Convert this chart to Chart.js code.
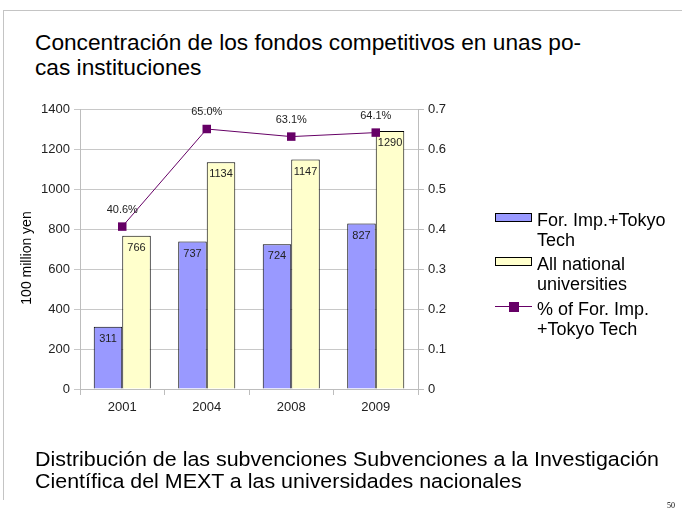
<!DOCTYPE html>
<html>
<head>
<meta charset="utf-8">
<script src="https://cdn.jsdelivr.net/npm/chart.js@4.4.1/dist/chart.umd.min.js"></script>
<style>
  html, body { margin: 0; padding: 0; background: #fff; }
  #slide { position: relative; width: 682px; height: 513px; overflow: hidden; font-family: "Liberation Sans", Arial, sans-serif; color: #000; }
  #frameTop { position: absolute; left: 3px; top: 10px; width: 679px; height: 1px; background: #c4c4c4; }
  #frameLeft { position: absolute; left: 3px; top: 10px; width: 1px; height: 490px; background: #c4c4c4; }
  #title { position: absolute; left: 35px; top: 30px; font-size: 22.7px; line-height: 25px; white-space: nowrap; }
  #caption { position: absolute; left: 35px; top: 448px; font-size: 20.5px; line-height: 21.5px; white-space: nowrap; transform: scaleX(1.045); transform-origin: left top; }
  #pageNo { position: absolute; left: 667px; top: 501px; font-family: "Liberation Serif", serif; font-size: 8px; }
  #chart { position: absolute; left: 0; top: 0; }
  #legend { position: absolute; left: 495px; top: 209.7px; font-size: 18px; line-height: 20px; white-space: nowrap; }
  .item { position: relative; padding-left: 42px; margin-bottom: 4.5px; }
  .box { position: absolute; left: 0; top: 3.3px; width: 35px; height: 7px; border: 1px solid #000; }
  .lineKey { position: absolute; left: 0; top: 7.5px; width: 37px; height: 1px; background: #660066; }
  .lineKey::after { content: ""; position: absolute; left: 14px; top: -4.5px; width: 10px; height: 10px; background: #660066; }
</style>
</head>
<body>
<div id="slide">
  <div id="frameTop"></div>
  <div id="frameLeft"></div>
  <div id="title">Concentración de los fondos competitivos en unas po-<br>cas instituciones</div>
  <canvas id="chart" width="682" height="513"></canvas>
  <div id="legend"></div>
  <div id="caption">Distribución de las subvenciones Subvenciones a la Investigación<br>Científica del MEXT a las universidades nacionales</div>
  <div id="pageNo">50</div>
</div>
<script>
const years = ['2001', '2004', '2008', '2009'];
const topTwo = [311, 737, 724, 827];
const allNational = [766, 1134, 1147, 1290];
const shareTopTwo = [0.406, 0.650, 0.631, 0.641];

const seriesNames = ['For. Imp.+Tokyo<br>Tech', 'All national<br>universities', '% of For. Imp.<br>+Tokyo Tech'];
const barFill = ['#9999ff', '#ffffcc'];
const lineColor = '#660066';
const yTitle = '100 million yen';

// html legend, the labels wrap onto two lines
const legendEl = document.getElementById('legend');
seriesNames.forEach((name, i) => {
    const item = document.createElement('div');
    item.className = 'item';
    const key = document.createElement('span');
    if (i < 2) {
        key.className = 'box';
        key.style.background = barFill[i];
    } else {
        key.className = 'lineKey';
    }
    item.appendChild(key);
    const txt = document.createElement('span');
    txt.innerHTML = name;
    item.appendChild(txt);
    legendEl.appendChild(item);
});

const fontFamily = '"Liberation Sans", Arial, sans-serif';

// value labels on bars and points, plus the left axis title
const valueLabels = {
    id: 'valueLabels',
    afterDatasetsDraw(chart) {
        const ctx = chart.ctx;
        ctx.save();
        ctx.font = '11px ' + fontFamily;
        ctx.fillStyle = '#222';
        ctx.textAlign = 'center';
        ctx.textBaseline = 'middle';
        chart.data.datasets.forEach((ds, i) => {
            const meta = chart.getDatasetMeta(i);
            meta.data.forEach((el, j) => {
                const v = ds.data[j];
                if (ds.type === 'line') {
                    ctx.fillText((v * 100).toFixed(1) + '%', el.x, el.y - 17);
                } else {
                    ctx.fillText(String(v), el.x, el.y + 12);
                }
            });
        });

        const area = chart.chartArea;
        ctx.font = '14px ' + fontFamily;
        ctx.fillStyle = '#000';
        ctx.translate(27, (area.top + area.bottom) / 2 + 9);
        ctx.rotate(-Math.PI / 2);
        ctx.fillText(yTitle, 0, 0);
        ctx.restore();
    }
};

const axisGray = '#bdbdbd';
const tickFont = { family: fontFamily, size: 13 };

new Chart(document.getElementById('chart'), {
    data: {
        labels: years,
        datasets: [
            {
                type: 'line', label: 'share', data: shareTopTwo, yAxisID: 'y1',
                borderColor: lineColor, backgroundColor: lineColor, borderWidth: 1,
                pointStyle: 'rect', pointRadius: 6, pointBorderWidth: 0,
                tension: 0, order: 0
            },
            {
                type: 'bar', label: 'top', data: topTwo, yAxisID: 'y',
                backgroundColor: barFill[0], borderColor: '#000', borderWidth: 1,
                categoryPercentage: 0.675, barPercentage: 1, order: 1
            },
            {
                type: 'bar', label: 'all', data: allNational, yAxisID: 'y',
                backgroundColor: barFill[1], borderColor: '#000', borderWidth: 1,
                categoryPercentage: 0.675, barPercentage: 1, order: 1
            }
        ]
    },
    options: {
        responsive: false,
        animation: false,
        layout: { padding: { top: 109, left: 16, right: 0, bottom: 94 } },
        plugins: { legend: { display: false }, tooltip: { enabled: false } },
        scales: {
            x: {
                afterFit: s => { s.height = 30; },
                grid: { offset: true, drawOnChartArea: false, drawTicks: true, tickLength: 6, color: axisGray },
                border: { color: axisGray },
                ticks: { color: '#222', font: tickFont, padding: 5 }
            },
            y: {
                position: 'left', min: 0, max: 1400,
                afterFit: s => { s.width = 64; },
                ticks: { stepSize: 200, color: '#222', font: tickFont, padding: 4, callback: v => String(v) },
                grid: { color: '#c8c8c8', tickLength: 6 },
                border: { color: axisGray }
            },
            y1: {
                position: 'right', min: 0, max: 0.7,
                afterFit: s => { s.width = 264; },
                ticks: { stepSize: 0.1, color: '#222', font: tickFont, padding: 4, callback: v => String(Math.round(v * 10) / 10) },
                grid: { drawOnChartArea: false, color: axisGray, tickLength: 6 },
                border: { color: axisGray }
            }
        }
    },
    plugins: [valueLabels]
});
</script>
</body>
</html>
